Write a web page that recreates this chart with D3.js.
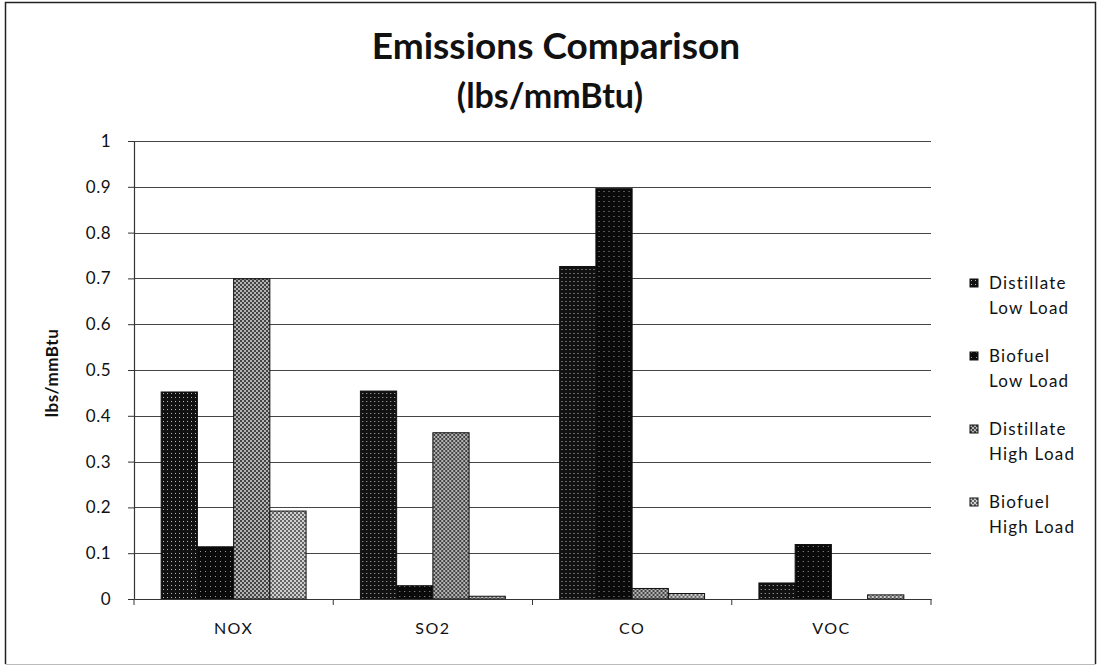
<!DOCTYPE html>
<html>
<head>
<meta charset="utf-8">
<script src="https://cdn.jsdelivr.net/npm/d3@7"></script>
<style>
  body { margin: 0; background: #fff; }
  text { font-family: Lato, "Open Sans", sans-serif; fill: #111; }
</style>
</head>
<body>
<div id="chart"></div>
<script>
// data
const categories = ['NOX', 'SO2', 'CO', 'VOC'];
const seriesNames = ['Distillate Low Load', 'Biofuel Low Load', 'Distillate High Load', 'Biofuel High Load'];
const distLow  = [0.452, 0.454, 0.726, 0.035];
const bioLow   = [0.114, 0.029, 0.896, 0.119];
const distHigh = [0.699, 0.363, 0.023, 0];
const bioHigh  = [0.192, 0.006, 0.012, 0.009];
const yTicks = [0, 0.1, 0.2, 0.3, 0.4, 0.5, 0.6, 0.7, 0.8, 0.9, 1];

const W = 1098, H = 666;
const M = {left: 134, right: 931, top: 141, bottom: 599};

const seriesValues = [distLow, bioLow, distHigh, bioHigh];
const rows = categories.map((c, i) => ({
    cat: c,
    vals: seriesNames.map((s, j) => ({key: s, idx: j, value: seriesValues[j][i]}))
}));

const svg = d3.select('#chart').append('svg')
    .attr('width', W).attr('height', H);

// fill patterns to mimic the scanned hatching
const defs = svg.append('defs');
function dotPattern(id, bg, dot, size, r) {
    const p = defs.append('pattern').attr('id', id)
        .attr('patternUnits', 'userSpaceOnUse')
        .attr('width', size).attr('height', size);
    p.append('rect').attr('width', size).attr('height', size).attr('fill', bg);
    p.append('rect').attr('x', 1).attr('y', 1).attr('width', r).attr('height', r).attr('fill', dot);
}
function checkPattern(id, a, b) {
    const p = defs.append('pattern').attr('id', id)
        .attr('patternUnits', 'userSpaceOnUse')
        .attr('width', 4).attr('height', 4);
    p.append('rect').attr('width', 4).attr('height', 4).attr('fill', a);
    p.append('rect').attr('width', 2).attr('height', 2).attr('fill', b);
    p.append('rect').attr('x', 2).attr('y', 2).attr('width', 2).attr('height', 2).attr('fill', b);
}
dotPattern('p0', '#111', '#bbb', 4, 1);
dotPattern('p1', '#0a0a0a', '#999', 5, 1);
checkPattern('p2', '#444', '#b4b4b4');
checkPattern('p3', '#666', '#cfcfcf');
const fills = ['url(#p0)', 'url(#p1)', 'url(#p2)', 'url(#p3)'];

// outer frame (bottom edge is faint in the scan)
const frame = svg.append('g').attr('fill', 'none');
frame.append('path').attr('d', 'M5.5,664 V2.5 H1095.5 V664')
    .attr('stroke', '#222').attr('stroke-width', 1.5);
frame.append('line').attr('x1', 5.5).attr('x2', 1095.5).attr('y1', 664.5).attr('y2', 664.5)
    .attr('stroke', '#bbb');

// scales
const x0 = d3.scaleBand().domain(categories).range([M.left, M.right]).padding(0);
const x1 = d3.scaleBand().domain(seriesNames).range([0, x0.bandwidth()])
    .paddingInner(0).paddingOuter(0.75);
const y = d3.scaleLinear().domain([0, 1]).range([M.bottom, M.top]);

// gridlines
svg.append('g').selectAll('line').data(yTicks.slice(1)).join('line')
    .attr('x1', M.left).attr('x2', M.right)
    .attr('y1', d => Math.round(y(d)) + 0.5).attr('y2', d => Math.round(y(d)) + 0.5)
    .attr('stroke', '#444').attr('stroke-width', 1.2);

// y axis
const yAxis = svg.append('g')
    .attr('transform', `translate(${M.left},0)`)
    .call(d3.axisLeft(y).tickValues(yTicks).tickSize(6).tickSizeOuter(0)
        .tickFormat(d => d3.format('')(+d.toFixed(1))));
yAxis.select('.domain').attr('stroke', '#333').attr('stroke-width', 1.2);
yAxis.selectAll('.tick line').attr('stroke', '#333');
yAxis.selectAll('.tick text')
    .attr('x', -23).style('font-size', '17px').style('font-family', 'Lato, sans-serif')
    .attr('letter-spacing', '0.5px').attr('fill', '#111');

// bars
svg.append('g').selectAll('g').data(rows).join('g')
    .attr('transform', d => `translate(${x0(d.cat)},0)`)
    .selectAll('rect').data(d => d.vals).join('rect')
    .attr('x', d => x1(d.key))
    .attr('width', x1.bandwidth())
    .attr('y', d => y(d.value))
    .attr('height', d => y(0) - y(d.value))
    .attr('fill', d => fills[d.idx])
    .attr('stroke', '#111').attr('stroke-width', 1);

// x axis
const xAxis = svg.append('g')
    .attr('transform', `translate(0,${M.bottom})`)
    .call(d3.axisBottom(x0).tickSize(0).tickPadding(24));
xAxis.select('.domain').attr('stroke', '#333').attr('stroke-width', 1.2);
xAxis.selectAll('.tick text').style('font-size', '16px').style('font-family', 'Lato, sans-serif')
    .attr('fill', '#111').attr('letter-spacing', '1.5px');
// category boundary ticks
xAxis.append('g').selectAll('line')
    .data(categories.map(c => x0(c)).concat([M.right]))
    .join('line')
    .attr('x1', d => d).attr('x2', d => d).attr('y1', 0).attr('y2', 6)
    .attr('stroke', '#333');

// y axis title
svg.append('text')
    .attr('transform', `translate(58,373) rotate(-90)`)
    .attr('text-anchor', 'middle')
    .style('font-size', '17px').style('font-weight', 'bold').attr('letter-spacing', '0.5px')
    .text('lbs/mmBtu');

// chart title
const title = svg.append('text').attr('text-anchor', 'middle').style('font-weight', 'bold');
title.append('tspan').attr('x', 556).attr('y', 59).style('font-size', '37px').text('Emissions Comparison');
title.append('tspan').attr('x', 550).attr('y', 108).style('font-size', '34px').text('(lbs/mmBtu)');

// legend
const legend = svg.append('g').selectAll('g').data(seriesNames).join('g')
    .attr('transform', (d, i) => `translate(970,${283 + i * 73})`);
legend.append('rect')
    .attr('x', 0).attr('y', -4).attr('width', 8).attr('height', 8)
    .attr('fill', (d, i) => fills[i]).attr('stroke', '#111');
legend.append('text')
    .attr('x', 19).attr('y', 6)
    .style('font-size', '17px').attr('letter-spacing', '1.2px')
    .text(d => d.split(' ')[0]);
legend.append('text')
    .attr('x', 19).attr('y', 31)
    .style('font-size', '17px').attr('letter-spacing', '1.2px')
    .text(d => d.split(' ').slice(1).join(' '));
</script>
</body>
</html>
